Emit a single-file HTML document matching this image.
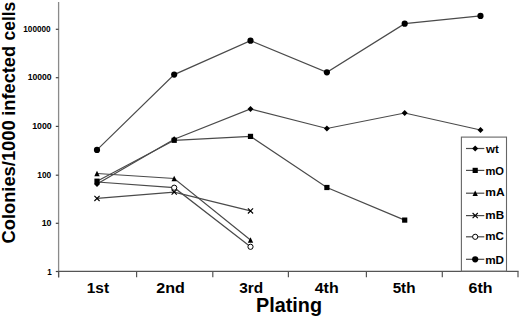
<!DOCTYPE html>
<html><head><meta charset="utf-8"><style>
html,body{margin:0;padding:0;background:#fff;}
body{width:520px;height:317px;overflow:hidden;}
svg{display:block;}
text{font-family:"Liberation Sans",sans-serif;font-weight:bold;fill:#000;}
.tl{font-size:9px;}
.cl{font-size:14.6px;}
.lg{font-size:10.4px;}
.yt{font-size:18.7px;}
.xt{font-size:19.8px;}
</style></head><body>
<svg width="520" height="317" viewBox="0 0 520 317">
<rect width="520" height="317" fill="#fff"/>
<line x1="58.6" y1="2" x2="58.6" y2="277.5" stroke="#8a8a8a" stroke-width="1.3"/>
<line x1="58.6" y1="271.4" x2="518.6" y2="271.4" stroke="#555" stroke-width="1.2"/>
<line x1="55.8" y1="29.3" x2="58.6" y2="29.3" stroke="#444" stroke-width="1.2"/><text transform="translate(50.67,31.75) scale(0.912,1)" text-anchor="end" class="tl">100000</text><line x1="55.8" y1="77.7" x2="58.6" y2="77.7" stroke="#444" stroke-width="1.2"/><text transform="translate(51.57,80.40) scale(0.958,1)" text-anchor="end" class="tl">10000</text><line x1="55.8" y1="126.4" x2="58.6" y2="126.4" stroke="#444" stroke-width="1.2"/><text transform="translate(51.77,128.80) scale(0.98,1)" text-anchor="end" class="tl">1000</text><line x1="55.8" y1="175.2" x2="58.6" y2="175.2" stroke="#444" stroke-width="1.2"/><text transform="translate(51.27,177.70) scale(0.93,1)" text-anchor="end" class="tl">100</text><line x1="55.8" y1="223.3" x2="58.6" y2="223.3" stroke="#444" stroke-width="1.2"/><text transform="translate(51.57,226.20) scale(0.99,1)" text-anchor="end" class="tl">10</text><line x1="55.8" y1="271.5" x2="58.6" y2="271.5" stroke="#444" stroke-width="1.2"/><text transform="translate(51.67,274.70) scale(0.9,1)" text-anchor="end" class="tl">1</text><line x1="58.6" y1="271.4" x2="58.6" y2="277.3" stroke="#555" stroke-width="1.2"/><line x1="136.6" y1="271.4" x2="136.6" y2="277.3" stroke="#555" stroke-width="1.2"/><line x1="212.8" y1="271.4" x2="212.8" y2="277.3" stroke="#555" stroke-width="1.2"/><line x1="288.4" y1="271.4" x2="288.4" y2="277.3" stroke="#555" stroke-width="1.2"/><line x1="366.4" y1="271.4" x2="366.4" y2="277.3" stroke="#555" stroke-width="1.2"/><line x1="442.3" y1="271.4" x2="442.3" y2="277.3" stroke="#555" stroke-width="1.2"/><line x1="518.0" y1="271.4" x2="518.0" y2="277.3" stroke="#555" stroke-width="1.2"/><text transform="translate(86.78,293.4) scale(1.055,1)" class="cl">1st</text><text transform="translate(156.22,293.2) scale(1.101,1)" class="cl">2nd</text><text transform="translate(239.29,293.0) scale(1.053,1)" class="cl">3rd</text><text transform="translate(314.68,293.0) scale(1.095,1)" class="cl">4th</text><text transform="translate(392.64,293.4) scale(1.044,1)" class="cl">5th</text><text transform="translate(468.56,293.4) scale(1.091,1)" class="cl">6th</text>
<polyline points="97,173.5 174.2,178.5 250.5,240" fill="none" stroke="#4a4a4a" stroke-width="1.2"/><polyline points="97,198.4 174.2,192.1 250.5,210.9" fill="none" stroke="#4a4a4a" stroke-width="1.2"/><polyline points="97,182 174.2,187.7 250.5,246.8" fill="none" stroke="#4a4a4a" stroke-width="1.2"/><polyline points="97,181.2 174.2,140.3 250.5,136.4 326.9,187.5 404.7,220.1" fill="none" stroke="#4a4a4a" stroke-width="1.2"/><polyline points="97,184 174.2,139.2 250.5,108.9 326.9,128.5 404.7,113 480.5,130" fill="none" stroke="#4a4a4a" stroke-width="1.2"/><polyline points="97,149.9 174.2,74.6 250.5,40.7 326.9,72.3 404.7,23.7 480.5,15.9" fill="none" stroke="#4a4a4a" stroke-width="1.2"/>
<path d="M97,170.8L99.7,176.2L94.3,176.2Z" fill="#000"/><path d="M174.2,175.8L176.89999999999998,181.2L171.5,181.2Z" fill="#000"/><path d="M250.5,237.3L253.2,242.7L247.8,242.7Z" fill="#000"/><path d="M94.4,195.8L99.6,201.0M99.6,195.8L94.4,201.0" stroke="#000" stroke-width="1.1" fill="none"/><path d="M171.6,189.5L176.79999999999998,194.7M176.79999999999998,189.5L171.6,194.7" stroke="#000" stroke-width="1.1" fill="none"/><path d="M247.9,208.3L253.1,213.5M253.1,208.3L247.9,213.5" stroke="#000" stroke-width="1.1" fill="none"/><circle cx="174.2" cy="187.7" r="2.6" fill="#fff" stroke="#000" stroke-width="1"/><circle cx="250.5" cy="246.8" r="2.6" fill="#fff" stroke="#000" stroke-width="1"/><rect x="94.4" y="178.6" width="5.2" height="5.2" fill="#000"/><rect x="171.6" y="137.70000000000002" width="5.2" height="5.2" fill="#000"/><rect x="247.9" y="133.8" width="5.2" height="5.2" fill="#000"/><rect x="324.29999999999995" y="184.9" width="5.2" height="5.2" fill="#000"/><rect x="402.09999999999997" y="217.5" width="5.2" height="5.2" fill="#000"/><path d="M97,181.0L100.0,184L97,187.0L94.0,184Z" fill="#000"/><path d="M174.2,136.2L177.2,139.2L174.2,142.2L171.2,139.2Z" fill="#000"/><path d="M250.5,105.9L253.5,108.9L250.5,111.9L247.5,108.9Z" fill="#000"/><path d="M326.9,125.5L329.9,128.5L326.9,131.5L323.9,128.5Z" fill="#000"/><path d="M404.7,110.0L407.7,113L404.7,116.0L401.7,113Z" fill="#000"/><path d="M480.5,127.0L483.5,130L480.5,133.0L477.5,130Z" fill="#000"/><circle cx="97" cy="149.9" r="3.1" fill="#000"/><circle cx="174.2" cy="74.6" r="3.1" fill="#000"/><circle cx="250.5" cy="40.7" r="3.1" fill="#000"/><circle cx="326.9" cy="72.3" r="3.1" fill="#000"/><circle cx="404.7" cy="23.7" r="3.1" fill="#000"/><circle cx="480.5" cy="15.9" r="3.1" fill="#000"/>
<rect x="461.4" y="137.1" width="45.1" height="134" fill="#fff" stroke="#666" stroke-width="1.1"/><line x1="466" y1="148.5" x2="484.3" y2="148.5" stroke="#4a4a4a" stroke-width="1.2"/><path d="M475.2,145.5L478.2,148.5L475.2,151.5L472.2,148.5Z" fill="#000"/><text transform="translate(486.00,152.6) scale(1.101,1)" class="lg">wt</text><line x1="466" y1="170.4" x2="484.3" y2="170.4" stroke="#4a4a4a" stroke-width="1.2"/><rect x="472.59999999999997" y="167.8" width="5.2" height="5.2" fill="#000"/><text transform="translate(485.42,174.5) scale(1.072,1)" class="lg">mO</text><line x1="466" y1="193.2" x2="484.3" y2="193.2" stroke="#4a4a4a" stroke-width="1.2"/><path d="M475.2,190.5L477.9,195.89999999999998L472.5,195.89999999999998Z" fill="#000"/><text transform="translate(485.26,196.1) scale(1.153,1)" class="lg">mA</text><line x1="466" y1="215.6" x2="484.3" y2="215.6" stroke="#4a4a4a" stroke-width="1.2"/><path d="M472.59999999999997,213.0L477.8,218.2M477.8,213.0L472.59999999999997,218.2" stroke="#000" stroke-width="1.1" fill="none"/><text transform="translate(485.28,218.9) scale(1.122,1)" class="lg">mB</text><line x1="466" y1="236.8" x2="484.3" y2="236.8" stroke="#4a4a4a" stroke-width="1.2"/><circle cx="475.2" cy="236.8" r="2.6" fill="#fff" stroke="#000" stroke-width="1"/><text transform="translate(485.29,240.0) scale(1.114,1)" class="lg">mC</text><line x1="466" y1="259.3" x2="484.3" y2="259.3" stroke="#4a4a4a" stroke-width="1.2"/><circle cx="475.2" cy="259.3" r="3.1" fill="#000"/><text transform="translate(485.18,263.6) scale(1.128,1)" class="lg">mD</text>
<text class="yt" transform="translate(15.3,243.53) rotate(-90) scale(0.98,1)" >Colonies/1000</text>
<text class="yt" transform="translate(15.3,115.78) rotate(-90) scale(0.9756,1)" >infected</text>
<text class="yt" transform="translate(15.3,40.5) rotate(-90) scale(0.9346,1)" >cells</text>
<text class="xt" x="289.05" y="311.5" text-anchor="middle">Plating</text>
</svg>
</body></html>
